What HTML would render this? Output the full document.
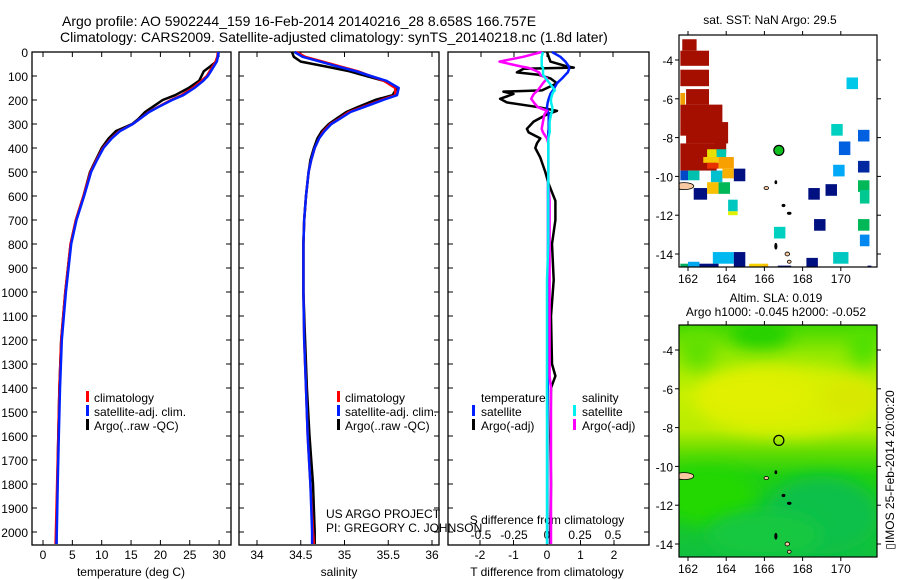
<!DOCTYPE html>
<html><head><meta charset="utf-8"><style>
html,body{margin:0;padding:0;background:#fff;}
svg{display:block;font-family:"Liberation Sans",sans-serif;}
text{fill:#000;}
</style></head><body>
<svg id="fig" width="900" height="580" viewBox="0 0 900 580">
<text x="62" y="26" font-size="14">Argo profile: AO 5902244_159 16-Feb-2014 20140216_28 8.658S 166.757E</text>
<text x="60" y="42" font-size="14">Climatology: CARS2009. Satellite-adjusted climatology: synTS_20140218.nc (1.8d later)</text>
<g id="p1"></g>
<g id="p2"></g>
<g id="p3"></g>
<g id="m1"></g>
<g id="m2"></g>
<text x="770" y="24" font-size="12" text-anchor="middle">sat. SST: NaN Argo: 29.5</text>
<text x="776" y="302" font-size="12" text-anchor="middle">Altim. SLA: 0.019</text>
<text x="776" y="316" font-size="12" text-anchor="middle">Argo h1000: -0.045 h2000: -0.052</text>
<text transform="translate(894,470) rotate(-90)" font-size="12" text-anchor="middle">▯IMOS 25-Feb-2014 20:00:20</text>
</svg>
<script>
// ---- data ----
const depthsT = [0,20,40,60,80,100,120,150,180,200,230,250,280,300,330,360,400,450,500,600,700,800,1000,1200,1400,1600,1800,2000,2050];
const tempClim = [29.8,29.7,29.4,28.9,28.4,27.9,27.0,25.5,23.6,21.8,19.5,18.0,16.4,15.3,13.0,11.6,10.2,9.1,8.1,6.9,5.6,4.7,3.8,3.1,2.8,2.6,2.4,2.2,2.15];
const tempSat  = [29.9,29.8,29.6,29.1,28.6,28.1,27.3,25.8,23.9,22.0,19.6,18.1,16.4,15.3,13.1,11.7,10.3,9.2,8.2,7.0,5.7,4.8,3.9,3.2,2.9,2.7,2.5,2.35,2.3];
const tempArgo = [29.9,29.8,29.5,28.5,27.4,27.0,26.6,24.8,22.5,20.4,18.6,17.4,16.2,15.2,12.4,11.2,10.0,9.0,8.0,6.9,5.6,4.7,3.8,3.1,2.8,2.6,2.45,2.3,2.3];
const salClim = [34.45,34.55,34.75,34.95,35.15,35.3,35.45,35.58,35.58,35.42,35.2,35.05,34.93,34.84,34.76,34.71,34.66,34.62,34.59,34.56,34.54,34.53,34.53,34.54,34.56,34.58,34.61,34.64,34.65];
const salSat  = [34.43,34.52,34.72,34.92,35.13,35.3,35.48,35.62,35.6,35.44,35.22,35.07,34.94,34.85,34.77,34.71,34.66,34.62,34.59,34.56,34.54,34.53,34.53,34.54,34.56,34.58,34.61,34.63,34.63];
const salArgo = [34.4,34.42,34.5,34.78,35.05,35.25,35.45,35.6,35.55,35.35,35.15,35.02,34.9,34.82,34.74,34.69,34.65,34.61,34.59,34.56,34.54,34.53,34.53,34.55,34.57,34.6,34.64,34.66,34.66];
const depthsD = [0,20,40,60,65,70,85,95,110,130,160,165,175,195,210,230,245,260,290,320,335,360,380,400,440,500,550,620,700,800,950,1100,1300,1350,1400,1600,1800,2000,2050];
const tDiffArgo = [0,0.05,0.1,0.6,0.8,-0.7,-0.9,-0.25,0.1,0.3,-0.15,-1.3,-1.0,-1.4,-1.2,-0.25,0.3,0,-0.4,-0.6,-0.55,-0.2,-0.3,-0.35,-0.2,-0.05,0.05,0.25,0.25,0.15,0.2,0.12,0.15,0.25,0.12,0.1,0.12,0.1,0.1];
const tDiffSat  = [0.15,0.4,0.55,0.65,0.66,0.66,0.62,0.55,0.45,0.3,0.18,0.15,0.1,0.05,0.02,0,0.02,0.05,0.05,0.05,0.04,0.04,0.04,0.04,0.04,0.04,0.03,0.03,0.03,0.03,0.02,0.02,0.02,0.02,0.02,0.01,0.01,0.01,0.01];
const sDiffSat  = [-0.03,-0.04,-0.04,-0.04,-0.03,-0.03,-0.03,-0.03,-0.01,0.02,0.06,0.05,0.04,0.03,0.03,0.04,0.04,0.03,0.02,0.02,0.02,0.01,0.01,0.01,0.01,0.01,0.01,0.01,0.01,0.01,0.0,0.0,0.0,0.0,0.0,0.0,0.0,0.0,0.0];
const sDiffArgo = [-0.04,-0.18,-0.36,-0.2,-0.15,-0.12,-0.06,-0.05,0.0,-0.03,-0.07,-0.08,-0.1,-0.12,-0.1,-0.07,0.0,-0.02,-0.03,-0.04,-0.03,0.0,0.01,0.01,0.01,0.01,0.01,0.02,0.02,0.02,0.02,0.02,0.02,0.02,0.03,0.03,0.03,0.03,0.03];
const depthTicks = [0,100,200,300,400,500,600,700,800,900,1000,1100,1200,1300,1400,1500,1600,1700,1800,1900,2000];
const tTicks = [0,5,10,15,20,25,30];
const sTicks = [34,34.5,35,35.5,36];
const sTickLabels = ["34","34.5","35","35.5","36"];
const tdTicks = [-2,-1,0,1,2];
const sdTicks = [-0.5,-0.25,0,0.25,0.5];
const sdTickLabels = ["-0.5","-0.25","0","0.25","0.5"];
const lonTicks = [162,164,166,168,170];
const latTicks = [-4,-6,-8,-10,-12,-14];
// SST cells: [lon0, lat0(top), lon1, lat1(bottom), colour]
const sstCells = [
[161.7,-2.93,162.45,-3.52,"#a40f00"],[161.6,-3.52,163.1,-4.3,"#a40f00"],[161.6,-4.5,163.1,-5.35,"#a40f00"],
[161.9,-5.5,163.1,-6.3,"#a40f00"],[161.6,-6.3,163.8,-7.9,"#a40f00"],[161.9,-7.2,164.1,-8.3,"#a40f00"],
[161.6,-8.3,163.5,-9.7,"#a40f00"],[163.4,-8.1,164.0,-8.8,"#a40f00"],[161.6,-5.7,161.85,-6.3,"#f0a000"],
[163.0,-8.6,163.5,-9.0,"#e8e000"],[163.5,-8.6,164.0,-9.0,"#00c8b0"],[162.8,-9.0,163.6,-9.3,"#f8c800"],
[163.0,-9.3,163.6,-9.6,"#e83000"],[163.6,-9.0,164.4,-9.6,"#f8a000"],[162.0,-9.7,162.6,-10.2,"#00c0b0"],
[163.2,-9.7,163.8,-10.3,"#00c0d0"],[163.8,-9.6,164.4,-10.1,"#f8b000"],[161.6,-9.7,162.0,-10.2,"#0048c8"],
[164.4,-9.6,165.0,-10.25,"#001080"],[162.3,-10.6,163.0,-11.2,"#001080"],[163.0,-10.3,163.6,-10.9,"#f8c000"],
[163.6,-10.3,164.2,-10.9,"#00b858"],[164.1,-11.2,164.6,-11.8,"#00c8c0"],[164.1,-11.8,164.6,-12.0,"#e0f000"],
[168.3,-10.6,168.9,-11.2,"#001080"],[169.2,-10.4,169.8,-11.0,"#001080"],[168.6,-12.2,169.2,-12.8,"#001080"],
[170.9,-9.2,171.5,-9.8,"#0028a0"],[169.6,-9.4,170.2,-10.0,"#00a8f8"],[169.5,-7.3,170.1,-7.9,"#00d0c0"],
[170.3,-4.9,170.9,-5.5,"#00c8e8"],[170.9,-7.6,171.5,-8.2,"#0060e0"],[169.9,-8.2,170.5,-8.9,"#0060e0"],
[170.9,-10.2,171.5,-10.8,"#00b858"],[171.0,-10.7,171.5,-11.4,"#00c890"],[170.9,-12.2,171.5,-12.8,"#00b858"],
[171.0,-13.0,171.5,-13.6,"#0088f0"],[166.5,-12.6,167.1,-13.2,"#00d0c0"],[168.2,-14.2,168.8,-14.8,"#001080"],
[163.3,-13.9,164.4,-14.5,"#00b8f0"],[164.4,-13.9,165.0,-14.8,"#001080"],[162.0,-14.4,162.6,-14.8,"#00a8f0"],
[161.6,-14.5,162.0,-14.8,"#00b060"],[162.6,-14.5,163.6,-14.8,"#001080"],[165.2,-14.5,165.9,-14.8,"#f8d000"],
[165.9,-14.5,166.2,-14.8,"#f8c000"],[166.7,-14.6,167.4,-14.8,"#001080"],[169.6,-13.9,170.4,-14.5,"#00c8c0"],[171.4,-14.6,171.6,-14.8,"#001080"]
];
// SLA field blobs: [lon, lat, rx(deg), ry(deg), colour]
const slaBlobs = [
[167.0,-6.6,4.5,1.8,"#d8f000"],[165.5,-6.4,3.0,1.2,"#e0f000"],[170.5,-6.5,1.5,1.0,"#d8e800"],
[165.8,-3.2,1.6,0.7,"#20d000"],[162.5,-4.0,0.9,1.0,"#60e000"],[171.2,-3.8,0.8,1.0,"#50e000"],
[163.0,-11.5,2.5,1.5,"#20d800"],[169.0,-12.5,3.0,2.0,"#10c048"],[166.0,-13.5,3.0,1.2,"#18c840"]
];
const argoLon = 166.757, argoLat = -8.658;

// ---- helpers ----
const NS="http://www.w3.org/2000/svg";
function mk(parent,tag,attrs){const e=document.createElementNS(NS,tag);for(const k in attrs)e.setAttribute(k,attrs[k]);parent.appendChild(e);return e;}
const Y0=52, PY=0.24, YB=545;
const yD = d => Y0 + d*PY;

function panelFrame(g,x0,x1,leftLabels){
  const r=mk(g,'rect',{x:x0,y:Y0,width:x1-x0,height:YB-Y0,fill:'none',stroke:'#000','stroke-width':1.3});
  
  
  depthTicks.forEach(d=>{
    const y=yD(d);
    mk(g,'line',{x1:x0,x2:x0+5,y1:y,y2:y,stroke:'#000'});
    mk(g,'line',{x1:x1-5,x2:x1,y1:y,y2:y,stroke:'#000'});
    if(leftLabels){
      const t=mk(g,'text',{x:x0-4,y:y+5,'font-size':12,'text-anchor':'end'});
      t.textContent=d;
      
      
    }
  });
}
function xTicks(g,ticks,labels,xf,yLab,topToo){
  ticks.forEach((v,i)=>{
    const x=xf(v);
    mk(g,'line',{x1:x,x2:x,y1:YB,y2:YB-5,stroke:'#000'});
    if(topToo) mk(g,'line',{x1:x,x2:x,y1:Y0,y2:Y0+5,stroke:'#000'});
    const t=mk(g,'text',{x:x,y:yLab,'font-size':12,'text-anchor':'middle'});
    t.textContent=labels[i];
    
    
  });
}
function line(g,xs,ds,xf,col,w,name){
  const p=xs.map((v,i)=>(i?'L':'M')+xf(v).toFixed(1)+','+yD(ds[i]).toFixed(1)).join('');
  const e=mk(g,'path',{d:p,fill:'none',stroke:col,'stroke-width':w,'stroke-linejoin':'round'});
  
  
}
function label(g,x,y,txt,name,anchor){
  const t=mk(g,'text',{x:x,y:y,'font-size':12,'text-anchor':anchor||'start'});
  t.textContent=txt;
  
  
}
function legendMark(g,x,y,col){
  const r=mk(g,'rect',{x:x,y:y-11,width:3,height:11,fill:col});
  
  
}

// ---- panel 1: temperature ----
const p1=document.getElementById('p1');
const xT=v=>43+v*5.87;
panelFrame(p1,32,231,true);
xTicks(p1,tTicks,tTicks.map(String),xT,559,true);
line(p1,tempArgo,depthsT,xT,'#000',2.5,'temp-argo-line');
line(p1,tempClim,depthsT,xT,'#f00',2.5,'temp-clim-line');
line(p1,tempSat,depthsT,xT,'#0020ff',2.5,'temp-sat-line');
label(p1,131,576,'temperature (deg C)','x-axis-title','middle');
[['#f00','climatology'],['#0020ff','satellite-adj. clim.'],['#000','Argo(..raw -QC)']].forEach((e,i)=>{legendMark(p1,86,402+i*14,e[0]);label(p1,94,402+i*14,e[1],'legend-entry');});

// ---- panel 2: salinity ----
const p2=document.getElementById('p2');
const xS=v=>257+(v-34)*87.5;
panelFrame(p2,239,439,false);
xTicks(p2,sTicks,sTickLabels,xS,559,true);
line(p2,salArgo,depthsT,xS,'#000',2.5,'sal-argo-line');
line(p2,salClim,depthsT,xS,'#f00',2.5,'sal-clim-line');
line(p2,salSat,depthsT,xS,'#0020ff',2.5,'sal-sat-line');
label(p2,339,576,'salinity','x-axis-title','middle');
[['#f00','climatology'],['#0020ff','satellite-adj. clim.'],['#000','Argo(..raw -QC)']].forEach((e,i)=>{legendMark(p2,337,402+i*14,e[0]);label(p2,345,402+i*14,e[1],'legend-entry');});
label(p2,326,518,'US ARGO PROJECT','project-label');
label(p2,326,532,'PI: GREGORY C. JOHNSON','pi-label');

// ---- panel 3: differences ----
const p3=document.getElementById('p3');
const xTD=v=>547+v*33.5, xSD=v=>547+v*132;
panelFrame(p3,448,649,false);
xTicks(p3,tdTicks,tdTicks.map(String),xTD,559,false);
sdTicks.forEach((v,i)=>{const x=xSD(v);mk(p3,'line',{x1:x,x2:x,y1:Y0,y2:Y0+5,stroke:'#000'});label(p3,x,539,sdTickLabels[i],'s-diff-tick-label','middle');});
label(p3,547,524,'S difference from climatology','s-diff-axis-title','middle');
line(p3,tDiffArgo,depthsD,xTD,'#000',2.5,'tdiff-argo-line');
line(p3,tDiffSat,depthsD,xTD,'#0020ff',2.5,'tdiff-sat-line');
line(p3,sDiffArgo,depthsD,xSD,'#ff00ff',2.5,'sdiff-argo-line');
line(p3,sDiffSat,depthsD,xSD,'#00f0f0',2.5,'sdiff-sat-line');
label(p3,547,576,'T difference from climatology','x-axis-title','middle');
label(p3,481,402,'temperature','legend-heading');
label(p3,582,402,'salinity','legend-heading');
legendMark(p3,472,416,'#0020ff');label(p3,481,416,'satellite','legend-entry');
legendMark(p3,472,430,'#000');label(p3,481,430,'Argo(-adj)','legend-entry');
legendMark(p3,573,416,'#00f0f0');label(p3,582,416,'satellite','legend-entry');
legendMark(p3,573,430,'#ff00ff');label(p3,582,430,'Argo(-adj)','legend-entry');

// ---- maps ----
const MX0=679,MX1=877;
const lonX=l=>688+(l-162)*19.1;
function mapAxes(g,top,bot,latY){
  lonTicks.forEach(l=>{const x=lonX(l);mk(g,'line',{x1:x,x2:x,y1:bot,y2:bot+4,stroke:'#000'});mk(g,'line',{x1:x,x2:x,y1:top,y2:top-4,stroke:'#000'});label(g,x,bot+16,String(l),'lon-tick-label','middle');});
  latTicks.forEach(la=>{const y=latY(la);mk(g,'line',{x1:MX0-4,x2:MX0,y1:y,y2:y,stroke:'#000'});mk(g,'line',{x1:MX1,x2:MX1+4,y1:y,y2:y,stroke:'#000'});label(g,MX0-6,y+5,String(la),'lat-tick-label','end');});
  const r=mk(g,'rect',{x:MX0,y:top,width:MX1-MX0,height:bot-top,fill:'none',stroke:'#000','stroke-width':1.2});
  
  
}
const islands=[[161.8,-10.5,0.5,0.18,'#f8c8a0'],[166.1,-10.6,0.12,0.08,'#f8c8a0'],[167.3,-11.9,0.1,0.06,'#000'],[166.6,-13.6,0.06,0.15,'#000'],[167.2,-14.0,0.12,0.1,'#f8c8a0'],[167.3,-14.4,0.1,0.08,'#f8c8a0'],[167.0,-11.5,0.08,0.06,'#000'],[166.6,-10.3,0.05,0.08,'#000']];

const m1=document.getElementById('m1');
const latY1=la=>60+(-4-la)*19.4;
const c1=mk(m1,'clipPath',{id:'clip1'});mk(c1,'rect',{x:MX0,y:35,width:MX1-MX0,height:232});
const g1=mk(m1,'g',{'clip-path':'url(#clip1)'});
sstCells.forEach(c=>{
  const r=mk(g1,'rect',{x:lonX(c[0]),y:latY1(c[1]),width:(c[2]-c[0])*19.1,height:(c[1]-c[3])*19.4,fill:c[4]});
  
  
});
islands.forEach(s=>mk(g1,'ellipse',{cx:lonX(s[0]),cy:latY1(s[1]),rx:s[2]*19.1,ry:s[3]*19.4,fill:s[4],stroke:'#000','stroke-width':0.8}));
const a1=mk(m1,'circle',{cx:lonX(argoLon),cy:latY1(argoLat),r:5,fill:'#10c020',stroke:'#000','stroke-width':1.2});


mapAxes(m1,35,267,latY1);

const m2=document.getElementById('m2');
const latY2=la=>350+(-4-la)*19.4;
const c2=mk(m2,'clipPath',{id:'clip2'});mk(c2,'rect',{x:MX0,y:325,width:MX1-MX0,height:232});
const defs=mk(m2,'defs',{});
const lg=mk(defs,'linearGradient',{id:'slag',x1:0,y1:0,x2:0,y2:1});
[[0,'#40d800'],[0.12,'#90e800'],[0.3,'#c8f000'],[0.45,'#b8ec00'],[0.55,'#60dc00'],[0.65,'#20d010'],[1,'#10c040']].forEach(s=>mk(lg,'stop',{offset:s[0],'stop-color':s[1]}));
const flt=mk(defs,'filter',{id:'blur2',x:'-50%',y:'-50%',width:'200%',height:'200%'});mk(flt,'feGaussianBlur',{stdDeviation:8});
const g2=mk(m2,'g',{'clip-path':'url(#clip2)'});
const bg=mk(g2,'rect',{x:MX0,y:325,width:MX1-MX0,height:232,fill:'url(#slag)'});


slaBlobs.forEach(b=>{
  const e=mk(g2,'ellipse',{cx:lonX(b[0]),cy:latY2(b[1]),rx:b[2]*19.1,ry:b[3]*19.4,fill:b[4],filter:'url(#blur2)'});
  
  
});
islands.forEach(s=>mk(g2,'ellipse',{cx:lonX(s[0]),cy:latY2(s[1]),rx:s[2]*19.1,ry:s[3]*19.4,fill:s[4],stroke:'#000','stroke-width':0.8}));
const a2=mk(m2,'circle',{cx:lonX(argoLon),cy:latY2(argoLat),r:5,fill:'none',stroke:'#000','stroke-width':1.2});


mapAxes(m2,325,557,latY2);
</script>
</body></html>
